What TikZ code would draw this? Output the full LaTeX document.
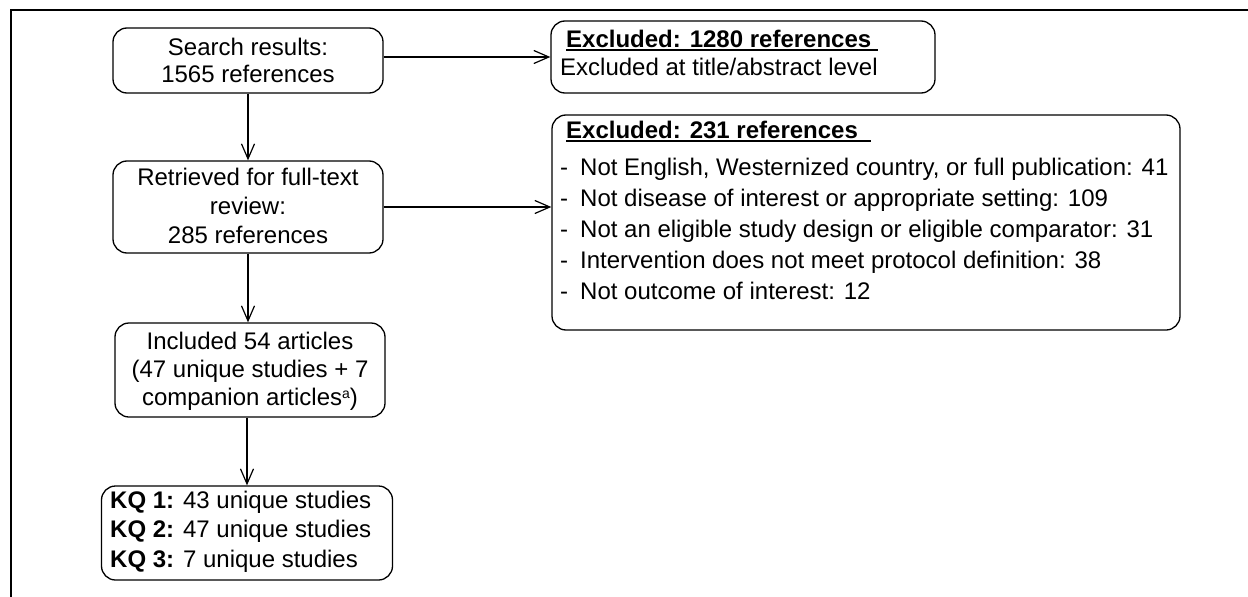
\documentclass[tikz,border=0pt]{standalone}
\usepackage{fontspec}
\setmainfont{Liberation Sans}
\usetikzlibrary{arrows.meta}
\newcommand\myul[1]{\setbox0\hbox{#1}\rlap{\rule[-3.8pt]{\wd0}{1.7pt}}\box0}
\begin{document}
\begin{tikzpicture}[x=1pt,y=-1pt,
  box/.style={draw, rounded corners=14pt, line width=1.3pt, inner sep=0pt},
  txt/.style={inner sep=0pt, font=\fontsize{24}{#1}\selectfont},
  arr/.style={-{Straight Barb[length=15pt,width=13pt]}, line width=1.2pt},
  frame/.style={line width=1.4pt}]
\useasboundingbox (0,0) rectangle (1248,597);
% frame
\draw[frame] (11,597) -- (11,10) -- (1248,10);
% boxes
\node[box, minimum width=270pt, minimum height=65pt] (b1) at (248,60.5) {};
\node[box, minimum width=270pt, minimum height=92pt] (b2) at (248,207) {};
\node[box, minimum width=270pt, minimum height=94pt] (b3) at (250,370) {};
\node[box, minimum width=291pt, minimum height=94pt] (b4) at (247,533) {};
\node[box, minimum width=384pt, minimum height=72pt] (b5) at (743,57) {};
\node[box, minimum width=628pt, minimum height=215pt] (b6) at (866,222.5) {};
% texts
\node[txt=28, anchor=base] (t1) at (248,55)
  {\begin{tabular}[t]{@{}c@{}}Search results:\\1565 references\end{tabular}};
\node[txt=29, anchor=base] (t2) at (248,185)
  {\begin{tabular}[t]{@{}c@{}}Retrieved for full-text\\review:\\285 references\end{tabular}};
\node[txt=28, anchor=base] (t3) at (250,349)
  {\begin{tabular}[t]{@{}c@{}}Included 54 articles\\(47 unique studies + 7\\companion articles{\fontsize{14}{14}\selectfont\raisebox{7pt}{a}})\end{tabular}};
\node[txt=29.5, anchor=base west] (t4) at (110,508)
  {\begin{tabular}[t]{@{}l@{}}\textbf{KQ 1:} 43 unique studies\\\textbf{KQ 2:} 47 unique studies\\\textbf{KQ 3:} 7 unique studies\end{tabular}};
\node[txt=28, anchor=base west] (h5) at (566,47) {\myul{\textbf{Excluded: 1280 references}\ }};
\node[txt=28, anchor=base west] (t5) at (560,75) {Excluded at title/abstract level};
\node[txt=28, anchor=base west] (h6) at (566,138) {\myul{\textbf{Excluded: 231 references}\ \ }};
\node[txt=31, anchor=base west] (t6) at (560,175)
  {\begin{tabular}[t]{@{}l@{\hspace{12pt}}l@{}}
  -&Not English, Westernized country, or full publication: 41\\
  -&Not disease of interest or appropriate setting: 109\\
  -&Not an eligible study design or eligible comparator: 31\\
  -&Intervention does not meet protocol definition: 38\\
  -&Not outcome of interest: 12
  \end{tabular}};
% connectors
\draw[arr] (b1.south) -- (b1.south |- b2.north);
\draw[arr] (b2.south) -- (b2.south |- b3.north);
\draw[arr] (b3.south -| b4.north) -- (b4.north);
\draw[arr] (b1.east |- b5.west) -- (b5.west);
\draw[arr] (b2.east) -- (b2.east -| b6.west);
\end{tikzpicture}
\end{document}
